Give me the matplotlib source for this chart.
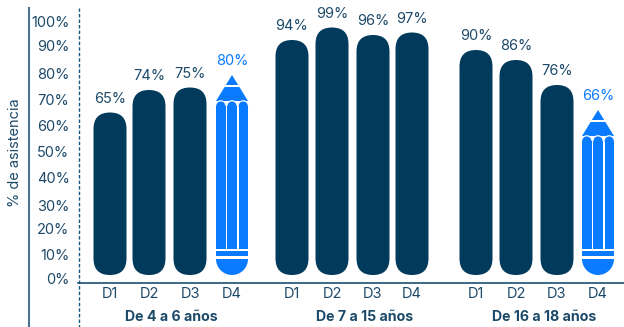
import matplotlib
matplotlib.use("Agg")
import matplotlib.pyplot as plt
from matplotlib.patches import Circle, FancyBboxPatch, Polygon, Rectangle, Wedge
from matplotlib.transforms import Affine2D

plt.rcParams["font.family"] = ["Inter", "DejaVu Sans"]

# Attendance per decile, one list per age group
groups = ["De 4 a 6 años", "De 7 a 15 años", "De 16 a 18 años"]
deciles = ["D1", "D2", "D3", "D4"]
values_4_6 = [65, 74, 75, 80]
values_7_15 = [94, 99, 96, 97]
values_16_18 = [90, 86, 76, 66]
all_values = [values_4_6, values_7_15, values_16_18]
tick_labels = ["0%", "10%", "20%", "30%", "40%", "50%", "60%", "70%", "80%", "90%", "100%"]

DARK = "#013A5B"
BLUE = "#0A7BFF"
TEXT = "#1D4A69"

# layout: x is in pixels, y is in percent with 2.5 px per percent
PX = 0.4
centers = [[110, 149, 190, 232], [292, 332, 373, 412], [476, 516, 557, 598]]
group_x = [171, 365, 544]
tick_y = [-2, 7.6, 18, 27.2, 38.4, 48.8, 59.2, 69.6, 80, 91.2, 100.8]
BAR_W = 33


def draw_pencil(ax, cx, value):
    # shapes are given in px around the tip / the base, then squashed to data units
    top = Affine2D().scale(1, PX).translate(cx, value) + ax.transData
    base = Affine2D().scale(1, PX).translate(cx, 0) + ax.transData
    w = BAR_W / 2

    ax.add_patch(Polygon([(0, 0), (6.2, -10), (-6.2, -10)], color=BLUE, lw=0, transform=top))
    ax.add_patch(Polygon([(7.4, -12), (16, -26), (-16, -26), (-7.4, -12)], color=BLUE, lw=0, transform=top))

    # three columns with domed tops
    for dx in (-11.2, 0, 11.2):
        ax.add_patch(Rectangle((dx - 4.7, 26), 9.4, (value / PX) - 30 - 26, color=BLUE, lw=0,
                               transform=base))
        ax.add_patch(Circle((dx, -31), 5.2, fc=BLUE, ec="white", lw=0.9, transform=top))
        ax.add_patch(Rectangle((dx - 4.7, -37), 9.4, 6, color=BLUE, lw=0, transform=top, zorder=2.1))

    # ferrule band and rounded end
    ax.add_patch(Rectangle((-w + 0.5, 19), 2 * w - 1, 5, color=BLUE, lw=0, transform=base))
    ax.add_patch(Wedge((0, 16), 16, 180, 360, color=BLUE, lw=0, transform=base))


fig = plt.figure(figsize=(6.24, 3.27), dpi=100)
ax = fig.add_axes([0, 0, 1, 1])
ax.set_xlim(0, 624)
ax.set_ylim(-52 * PX, 275 * PX)
ax.axis("off")

for g, vals in enumerate(all_values):
    for i, v in enumerate(vals):
        cx = centers[g][i]
        if i == 3 and g != 1:
            draw_pencil(ax, cx, v)
            color = BLUE
        else:
            ax.add_patch(FancyBboxPatch((cx - BAR_W / 2, 0), BAR_W, v,
                                        boxstyle="round,pad=0,rounding_size=16.5",
                                        mutation_aspect=PX, fc=DARK, ec="none"))
            color = TEXT
        ax.annotate(f"{v}%", (cx, v), xytext=(0, 10), textcoords="offset points",
                    ha="center", va="center", fontsize=10.5, color=color)
        ax.text(cx, -7.8, deciles[i], ha="center", va="center", fontsize=10.5, color=TEXT)
    ax.text(group_x[g], -16.9, groups[g], ha="center", va="center", fontsize=10.2,
            fontweight="bold", color=TEXT)

for y, lab in zip(tick_y, tick_labels):
    ax.text(69.5, y, lab, ha="right", va="center", fontsize=10.5, color=TEXT)

ax.text(15.5, 49, "% de asistencia", rotation=90, ha="center", va="center",
        fontsize=10.5, color=TEXT)

# left rule, dashed separator and baseline
ax.plot([29, 29], [-22, 107], color="#4A7391", lw=1.5)
ax.plot([78.5, 78.5], [-22, 107], color="#15577F", lw=1, ls=(0, (2.5, 1.5)))
ax.plot([78, 624], [-3, -3], color="#1B4F72", lw=1.2)

fig.savefig("out.png", dpi=100)
